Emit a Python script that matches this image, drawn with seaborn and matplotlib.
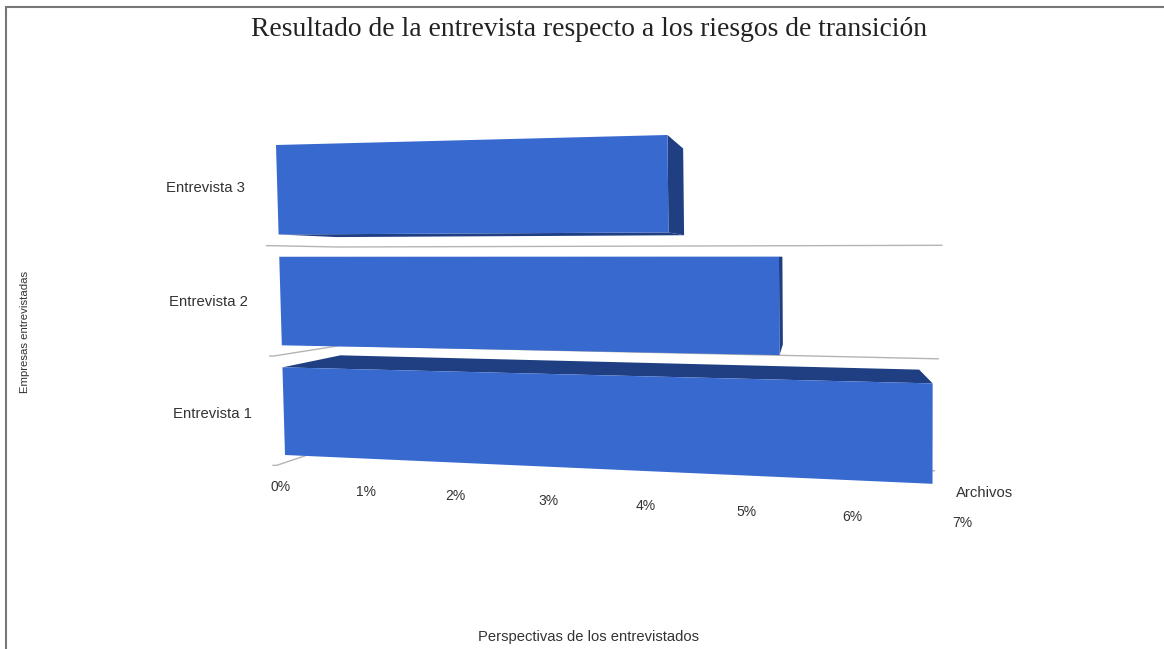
import numpy as np
import pandas as pd
import seaborn as sns
import matplotlib
matplotlib.use("Agg")
import matplotlib.pyplot as plt
from matplotlib.transforms import Transform

# values
categories = ["Entrevista 3", "Entrevista 2", "Entrevista 1"]
values = [4.25, 5.33, 6.76]
tick_values = [0, 1, 2, 3, 4, 5, 6, 7]
tick_labels = ["0%", "1%", "2%", "3%", "4%", "5%", "6%", "7%"]

title = "Resultado de la entrevista respecto a los riesgos de transición"
xlabel = "Perspectivas de los entrevistados"
ylabel = "Empresas entrevistadas"
corner_label = "Archivos"

FRONT = "#3869cf"
SIDE = "#1f3f82"
GRID = "#b4b4b4"
TEXT = "#333333"
BORDER = "#777777"

W, H = 1164, 649

# the tilted plane of the chart: (value, row) -> picture pixel
PLANE_SRC = [(0, -0.4), (7, -0.4), (7, 2.4), (0, 2.4)]
PLANE_DST = [(276, 145), (960, 127.5), (959, 485), (285, 455)]
# the 3d depth: points slide toward this spot
VANISH = np.array([810.0, 258.0])
DEPTH = 0.89


def homography(src, dst):
	rows = []
	rhs = []
	for (u, v), (x, y) in zip(src, dst):
		rows.append([u, v, 1, 0, 0, 0, -u * x, -v * x])
		rows.append([0, 0, 0, u, v, 1, -u * y, -v * y])
		rhs += [x, y]
	return np.append(np.linalg.solve(np.array(rows, float), np.array(rhs, float)), 1).reshape(3, 3)


class Tilt(Transform):
	input_dims = 2
	output_dims = 2
	is_affine = False

	def __init__(self, mat):
		super().__init__()
		self.mat = mat

	def transform_non_affine(self, values):
		pts = np.asarray(values, float)
		full = np.column_stack([pts, np.ones(len(pts))]) @ self.mat.T
		return full[:, :2] / full[:, 2:]


tilt = Tilt(homography(PLANE_SRC, PLANE_DST))


def back(p):
	return VANISH + (np.asarray(p, float) - VANISH) * DEPTH


sns.set_theme(style="white")
plt.rcParams["font.family"] = ["Liberation Sans", "DejaVu Sans"]

fig = plt.figure(figsize=(W / 100, H / 100), dpi=100)
ax = fig.add_axes([0, 0, 1, 1])

df = pd.DataFrame({"cat": categories, "val": values})
sns.barplot(data=df, x="val", y="cat", orient="h", color=FRONT, saturation=1, width=0.8, ax=ax, zorder=4)

ax.set_xlim(0, W)
ax.set_ylim(H, 0)
ax.axis("off")

plane = tilt + ax.transData

# separators run on the back wall, with a short stub on the floor
for row in [0.5, 1.5, 2.5]:
	end_u = 6.99 - 0.035 * (row - 0.5)
	start, corner, end = tilt.transform_non_affine([(-0.15, row), (0, row), (end_u, row)])
	corner = back(corner)
	end = back(end)
	ax.plot([start[0], start[0] + 4, corner[0], end[0]], [start[1], start[1], corner[1], end[1]], color=GRID, lw=1, zorder=1)

for patch in ax.patches:
	x0, w = patch.get_x(), patch.get_width()
	y0, h = patch.get_y(), patch.get_height()
	tl, tr, br, bl = tilt.transform_non_affine([(x0, y0), (x0 + w, y0), (x0 + w, y0 + h), (x0, y0 + h)])
	faces = []
	if tr[0] < VANISH[0]:
		faces.append([tr, back(tr), back(br), br])
	if tl[1] > VANISH[1]:
		faces.append([tl, back(tl), back(tr), tr])
	if bl[1] < VANISH[1]:
		faces.append([bl, back(bl), back(br), br])
	for face in faces:
		face = np.array(face)
		ax.fill(face[:, 0], face[:, 1], color=SIDE, lw=0, zorder=3)
	patch.set_transform(plane)
	patch.set_linewidth(0)
	patch.set_clip_on(False)

# labels live on the same tilted plane
for i, name in enumerate(categories):
	ax.text(-0.39, i * 1.03 - 0.02, name, transform=plane, ha="right", va="center", fontsize=10.7, color=TEXT)

for val, lab in zip(tick_values, tick_labels):
	ax.text(val * 1.014 - 0.07, 2.7, lab, transform=plane, ha="center", va="center", fontsize=10, color=TEXT)

ax.text(985, 493, corner_label, ha="center", va="center", fontsize=10.7, color=TEXT)
ax.text(589, 637, xlabel, ha="center", va="center", fontsize=10.65, color=TEXT)
ax.text(25, 332, ylabel, ha="center", va="center", rotation=90, fontsize=8.2, color=TEXT)
ax.text(589, 29, title, ha="center", va="center", fontsize=19.9, color="#222222", family="Liberation Serif")

# page frame of the scan
ax.plot([6, 6, W], [H, 7, 7], color=BORDER, lw=1.5, solid_joinstyle="miter")

fig.savefig("out.png", dpi=100, facecolor="white")
